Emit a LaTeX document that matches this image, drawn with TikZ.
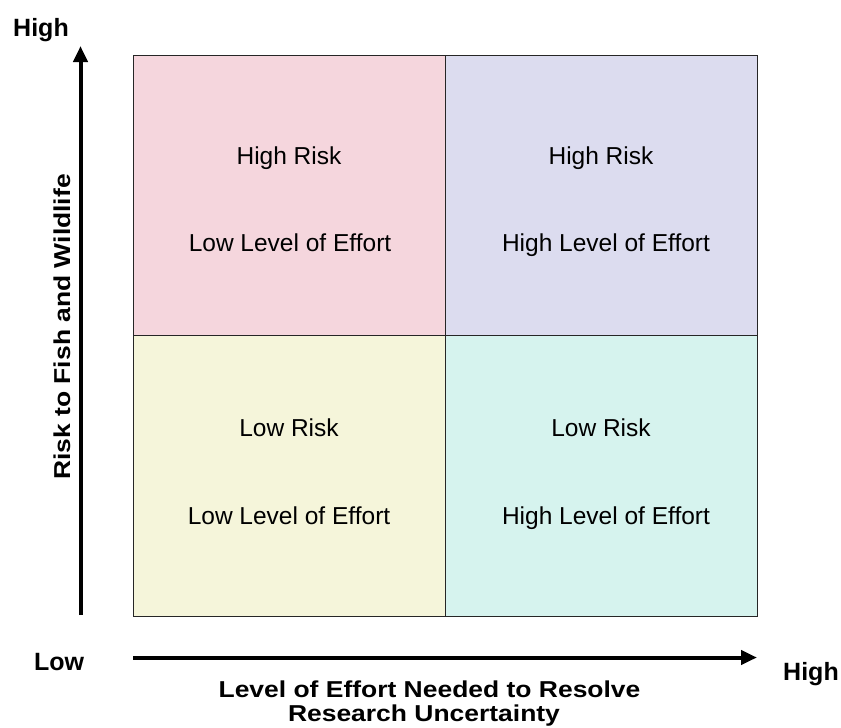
\documentclass[tikz,border=0pt]{standalone}
\usepackage{fontspec}
\setmainfont{Liberation Sans}
\usetikzlibrary{arrows.meta}
\definecolor{qpink}{HTML}{F5D6DD}
\definecolor{qlav}{HTML}{DCDCEF}
\definecolor{qyel}{HTML}{F5F5DA}
\definecolor{qcyan}{HTML}{D6F3EE}
\tikzset{
  quad/.style={draw=black!85, line width=1pt, minimum width=312pt, minimum height=280.5pt, inner sep=0pt, anchor=center},
  qtext/.style={font=\fontsize{24.5}{28}\selectfont, anchor=base, inner sep=0pt},
  axtext/.style={font=\bfseries\fontsize{25}{30}\selectfont, anchor=base, inner sep=0pt},
  axlabel/.style={font=\bfseries\fontsize{23}{26}\selectfont, inner sep=0pt},
  axarrow/.style={line width=4pt, -{Triangle[length=16pt,width=14pt]}}
}
\begin{document}
\begin{tikzpicture}[x=1pt,y=-1pt]
\useasboundingbox (0,0) rectangle (841,728);
\fill[white] (0,0) rectangle (841,728);
% quadrants
\node[quad, fill=qpink] (q1) at (289.25,195.4) {};
\node[quad, fill=qlav] (q2) at (601.25,195.4) {};
\node[quad, fill=qyel] (q3) at (289.25,475.9) {};
\node[quad, fill=qcyan] (q4) at (601.25,475.9) {};
% quadrant texts
\node[qtext] (t1a) at (289,164) {High Risk};
\node[qtext] (t1b) at (290,251) {Low Level of Effort};
\node[qtext] (t2a) at (601,164) {High Risk};
\node[qtext] (t2b) at (606,251) {High Level of Effort};
\node[qtext] (t3a) at (289,436) {Low Risk};
\node[qtext] (t3b) at (289,524) {Low Level of Effort};
\node[qtext] (t4a) at (601,436) {Low Risk};
\node[qtext] (t4b) at (606,524) {High Level of Effort};
% axes
\coordinate (vstart) at (80.5,615);
\coordinate (vend) at (80.5,46);
\coordinate (hstart) at (133,657.5);
\coordinate (hend) at (757,657.5);
\draw[axarrow] (vstart) -- (vend);
\draw[axarrow] (hstart) -- (hend);
% axis texts
\node[axtext] (yhigh) at (41,36) {High};
\node[axtext] (xlow) at (59,670) {Low};
\node[axtext] (xhigh) at (811,680) {High};
\node[axlabel, rotate=90] (ylab) at (62,327) {\scalebox{1.15}[1]{Risk to Fish and Wildlife}};
\node[axlabel, anchor=base] (xlab1) at (429.5,697) {\scalebox{1.15}[1]{Level of Effort Needed to Resolve}};
\node[axlabel, anchor=base] (xlab2) at (424,721.5) {\scalebox{1.15}[1]{Research Uncertainty}};
\end{tikzpicture}
\end{document}
